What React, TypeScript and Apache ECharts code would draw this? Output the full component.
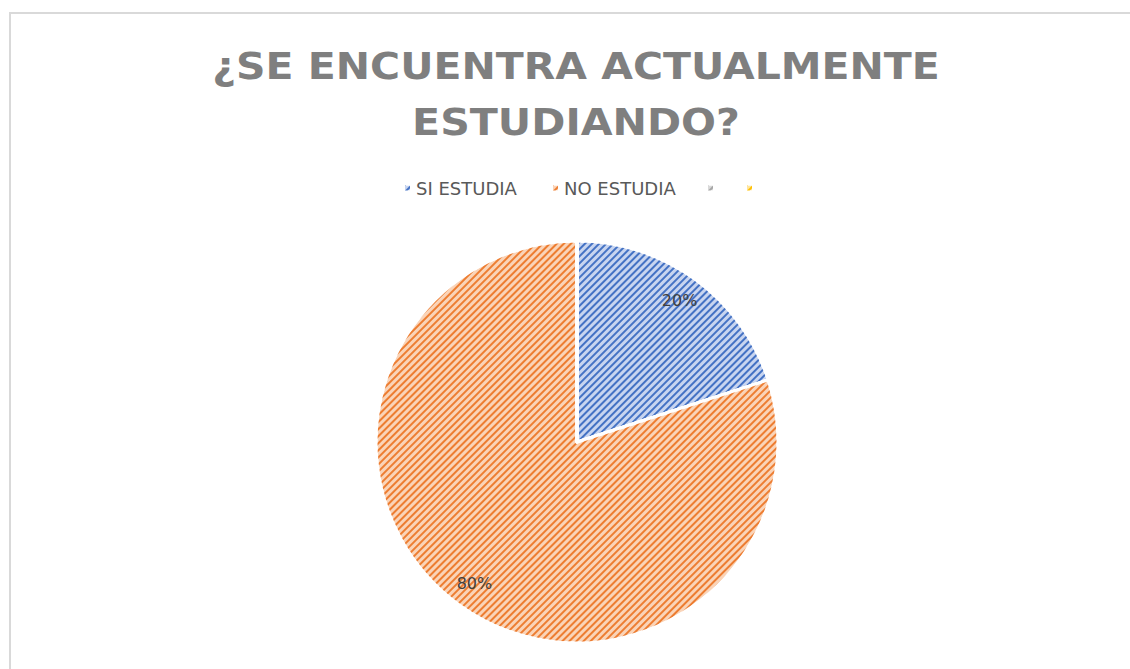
import React, { useEffect, useRef } from "react";
import * as echarts from "echarts";

const titleLines = ["¿SE ENCUENTRA ACTUALMENTE", "ESTUDIANDO?"];
const categories = ["SI ESTUDIA", "NO ESTUDIA", " ", "  "];
const values = [20, 80, 0, 0];
const baseColors = ["#c8d5f0", "#fad4b8", "#dadada", "#ffe6a0"];
const stripeColors = ["#4472c4", "#ed7d31", "#a5a5a5", "#ffc000"];
const legendLefts = [403, 551, 706, 745];

export default function App() {
  const ref = useRef<HTMLDivElement>(null);
  useEffect(() => {
    if (!ref.current) return;
    const chart = echarts.init(ref.current, undefined, { renderer: "svg" });
    const decal = (c: string) => ({
      symbol: "rect",
      symbolSize: 1,
      color: c,
      dashArrayX: [1, 0],
      dashArrayY: [1.2, 2.8],
      rotation: -Math.PI / 4,
    });
    const data = categories.map((name, i) => ({
      name,
      value: values[i],
      itemStyle: {
        color: baseColors[i],
        decal: decal(stripeColors[i]),
      },
    }));
    const labelData = categories.map((name, i) => ({
      name,
      value: values[i],
      label: { show: values[i] > 0 },
    }));
    const titleStyle = {
      fontFamily: "DejaVu Sans",
      fontWeight: "bold",
      fontSize: 37,
      fill: "#7f7f7f",
      align: "center",
      verticalAlign: "middle",
    };
    chart.setOption({
      animation: false,
      backgroundColor: "#ffffff",
      legend: categories.map((name, i) => ({
        data: [name],
        top: 179,
        left: legendLefts[i],
        padding: 0,
        itemWidth: 7,
        itemHeight: 7,
        icon: "rect",
        textStyle: { fontFamily: "DejaVu Sans", fontSize: 18, color: "#595959" },
      })),
      graphic: [
        {
          type: "rect",
          shape: { x: 10, y: 13, width: 1200, height: 700 },
          style: { fill: "none", stroke: "#d9d9d9", lineWidth: 2 },
          silent: true,
        },
        {
          type: "text",
          x: 576,
          y: 66,
          scaleX: 1.108,
          silent: true,
          style: { ...titleStyle, text: titleLines[0] },
        },
        {
          type: "text",
          x: 576,
          y: 122,
          scaleX: 1.112,
          silent: true,
          style: { ...titleStyle, text: titleLines[1] },
        },
      ],
      series: [
        {
          type: "pie",
          center: [577, 442],
          radius: [0, 201],
          startAngle: 90,
          clockwise: true,
          label: { show: false },
          labelLine: { show: false },
          itemStyle: { borderColor: "#ffffff", borderWidth: 3 },
          emphasis: { disabled: true },
          data,
        },
        {
          type: "pie",
          center: [577, 442],
          radius: [142, 201],
          startAngle: 90,
          clockwise: true,
          silent: true,
          legendHoverLink: false,
          itemStyle: { color: "rgba(0,0,0,0)", borderWidth: 0 },
          label: {
            position: "inside",
            formatter: "{d}%",
            fontFamily: "DejaVu Sans",
            fontSize: 16,
            color: "#404040",
          },
          labelLine: { show: false },
          emphasis: { disabled: true },
          data: labelData,
        },
      ],
    });
    return () => chart.dispose();
  }, []);
  return (
    <div
      ref={ref}
      style={{ position: "fixed", left: 0, top: 0, width: 1130, height: 669 }}
    />
  );
}
